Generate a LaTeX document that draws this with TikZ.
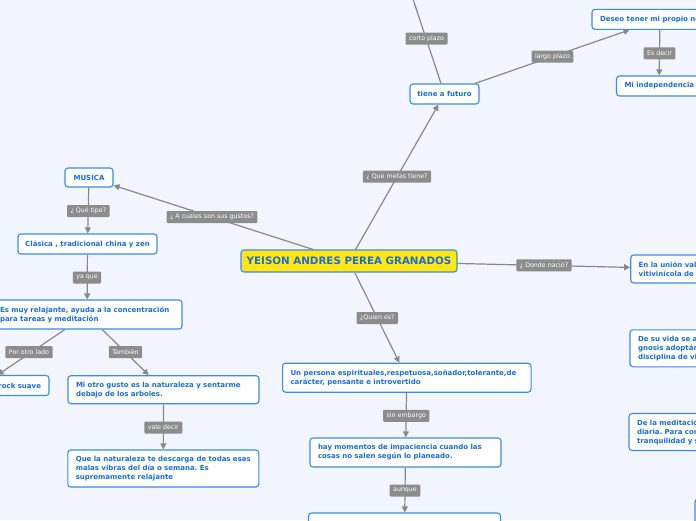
\documentclass[tikz,border=0pt]{standalone}
\usepackage{fontspec}
\setsansfont{DejaVu Sans}
\usetikzlibrary{arrows.meta}
\frenchspacing
\definecolor{bgcol}{RGB}{242,245,253}
\definecolor{bord}{RGB}{58,140,228}
\definecolor{txtblue}{RGB}{26,110,214}
\definecolor{yel}{RGB}{255,230,20}
\definecolor{conncol}{RGB}{136,136,136}
\definecolor{lblgray}{RGB}{140,140,140}
\tikzset{
 mbox/.style={draw=bord, fill=white, rounded corners=3pt, line width=1.1pt, text=txtblue,
   font=\sffamily\bfseries\fontsize{7}{9}\selectfont, align=left, inner xsep=8pt, inner ysep=0pt},
 sbox/.style={mbox, align=center, inner xsep=2pt},
 rootbox/.style={sbox, fill=yel, font=\sffamily\bfseries\fontsize{10.3}{12}\selectfont},
 lbl/.style={fill=lblgray, text=white, font=\sffamily\fontsize{6.3}{7.5}\selectfont,
   inner xsep=3.5pt, inner ysep=0pt, minimum height=12pt, rounded corners=1pt},
 conn/.style={draw=conncol, line width=1.2pt, -{Triangle[length=6pt,width=6pt]}}
}
\begin{document}
\begin{tikzpicture}[x=1pt,y=-1pt]
\fill[bgcol] (0,0) rectangle (696,520);
\useasboundingbox (0,0) rectangle (696,520);
\clip (0,0) rectangle (696,520);

% nodes
\node[rootbox, minimum width=216pt, minimum height=22pt] (root) at (349,261) {YEISON ANDRES PEREA GRANADOS};
\node[sbox, minimum width=48pt, minimum height=19pt] (musica) at (89,177.5) {MUSICA};
\node[sbox, minimum width=139pt, minimum height=20pt] (clasica) at (87.5,244) {Clásica , tradicional china y zen};
\node[mbox, text width=174pt, minimum height=29pt] (esmuy) at (87,314.5) {Es muy relajante, ayuda a la concentración\\para tareas y meditación};
\node[mbox, align=right, text width=118pt, minimum height=20pt] (rock) at (-18,385.5) {rock suave};
\node[mbox, text width=175pt, minimum height=28pt] (miotro) at (163.5,389.7) {Mi otro gusto es la naturaleza y sentarme\\debajo de los arboles.};
\node[mbox, text width=175pt, minimum height=37pt] (quela) at (163.3,468.5) {Que la naturaleza te descarga de todas esas\\malas vibras del día o semana. Es\\supremamente relajante};
\node[mbox, text width=232.5pt, minimum height=29pt] (persona) at (406.8,377.7) {Un persona espirituales,respetuosa,soñador,tolerante,de\\carácter, pensante e introvertido};
\node[mbox, text width=175pt, minimum height=29pt] (hay) at (405.5,452.5) {hay momentos de impaciencia cuando las\\cosas no salen según lo planeado.};
\node[mbox, text width=176pt, minimum height=37pt] (abajo) at (404.5,531.5) {};
\node[sbox, minimum width=69pt, minimum height=20pt] (tiene) at (444.5,94) {tiene a futuro};
\node[mbox, minimum height=20pt] (deseo) at (660,19.3) {\makebox[120pt][l]{Deseo tener mi propio negocio}};
\node[mbox, minimum height=20pt] (indep) at (659,86) {\makebox[69pt][l]{Mi independencia}};
\node[mbox, text width=124pt, minimum height=28pt] (union) at (700.7,269) {En la unión valle, capital\\vitivinícola de Colombia};
\node[mbox, text width=124pt, minimum height=37pt] (gnosis) at (700,348.3) {De su vida se aprende la\\gnosis adoptándola como\\disciplina de vida};
\node[mbox, text width=124pt, minimum height=37pt] (medit) at (699,432) {De la meditación\\diaria. Para conseguir\\tranquilidad y serenidad};
\node[mbox, text width=114pt, minimum height=40pt] (esquina) at (760,519) {};
\coordinate (cortotop) at (405,-25);

% connectors
\draw[conn] (root) -- (musica);
\draw[conn] (root) -- (tiene);
\draw[conn] (root) -- (union);
\draw[conn] (root) -- (persona);
\draw[conn] (musica) -- (clasica);
\draw[conn] (clasica) -- (esmuy);
\draw[conn] (esmuy) -- (rock);
\draw[conn] (esmuy) -- (miotro);
\draw[conn] (miotro) -- (quela);
\draw[conn] (persona) -- (hay);
\draw[conn] (hay) -- (abajo);
\draw[conn] (tiene) -- (cortotop);
\draw[conn] (tiene) -- (deseo);
\draw[conn] (deseo) -- (indep);

% labels
\node[lbl] (lgustos) at (212,217) {¿ A cuales son sus gustos?};
\node[lbl] (lmetas) at (397,176.7) {¿ Que metas tiene?};
\node[lbl] (ldonde) at (544,265.3) {¿ Donde nació?};
\node[lbl] (lquien) at (377.3,318) {¿Quien es?};
\node[lbl] (ltipo) at (88.3,211) {¿ Qué tipo?};
\node[lbl] (lyaque) at (87,277.5) {ya que};
\node[lbl] (lotro) at (29,352.2) {Por otro lado};
\node[lbl] (ltambien) at (125.5,352.2) {También};
\node[lbl] (lvale) at (163.3,427.5) {vale decir};
\node[lbl] (lsin) at (406.3,415.8) {sin embargo};
\node[lbl] (launque) at (405,490.5) {aunque};
\node[lbl] (lcorto) at (426.5,38.7) {corto plazo};
\node[lbl] (llargo) at (552.5,56.7) {largo plazo};
\node[lbl] (lesdecir) at (659.5,53.3) {Es decir};
\end{tikzpicture}
\end{document}
